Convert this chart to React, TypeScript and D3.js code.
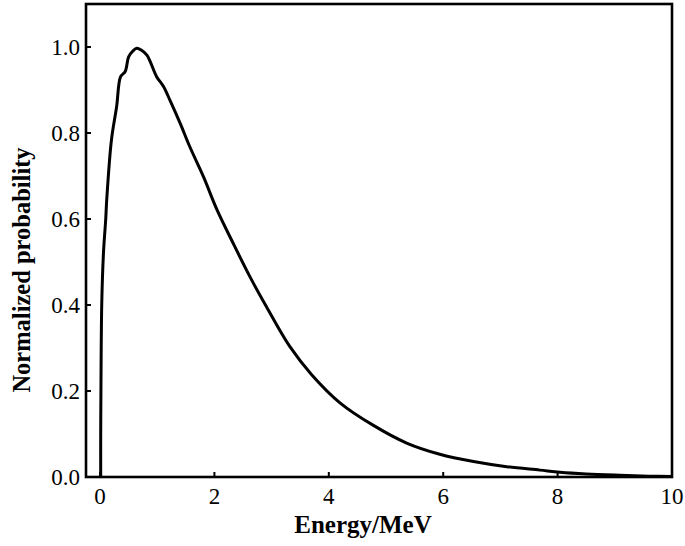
import React from "react";
import * as d3 from "d3";

const energy = [0.012, 0.012, 0.016, 0.03, 0.06, 0.1, 0.117, 0.2, 0.29, 0.36, 0.44, 0.5, 0.57, 0.64, 0.72, 0.82, 0.99, 1.11, 1.22, 1.4, 1.57, 1.81, 2.04, 2.33, 2.62, 2.91, 3.32, 3.7, 4.2, 4.78, 5.36, 5.94, 6.53, 7.11, 7.69, 8.04, 8.5, 9.09, 9.6, 10.0];
const probability = [0, 0.1, 0.2, 0.4, 0.52, 0.6, 0.644, 0.784, 0.861, 0.931, 0.943, 0.977, 0.99, 0.997, 0.993, 0.981, 0.931, 0.908, 0.877, 0.823, 0.768, 0.698, 0.623, 0.543, 0.466, 0.396, 0.303, 0.238, 0.172, 0.12, 0.079, 0.053, 0.036, 0.024, 0.016, 0.011, 0.007, 0.004, 0.002, 0.001];
const xTicks = [0, 2, 4, 6, 8, 10];
const yTicks = [0.0, 0.2, 0.4, 0.6, 0.8, 1.0];

const W = 685, H = 546;
const left = 86, right = 672, top = 4, bottom = 477;

export default function App() {
  const x = d3.scaleLinear().domain([-0.245, 10]).range([left, right]);
  const y = d3.scaleLinear().domain([0, 1.1]).range([bottom, top]);
  const data = energy.map((e, i) => [e, probability[i]] as [number, number]);
  const line = d3.line<[number, number]>().x(d => x(d[0])).y(d => y(d[1])).curve(d3.curveCatmullRom.alpha(0.5));
  const font = "'Liberation Serif', 'Times New Roman', serif";
  return (
    <svg width={W} height={H} style={{ position: "absolute", left: 0, top: 0, background: "#fff" }}>
      <rect x={0} y={0} width={W} height={H} fill="#fff" />
      <path d={line(data) || ""} fill="none" stroke="#000" strokeWidth={3} strokeLinejoin="round" />
      <rect x={left} y={top} width={right - left} height={bottom - top} fill="none" stroke="#000" strokeWidth={2.6} />
      {xTicks.map(t => (
        <g key={"x" + t}>
          <line x1={x(t)} x2={x(t)} y1={bottom} y2={bottom - 5} stroke="#000" strokeWidth={2} />
          <text x={x(t)} y={504} textAnchor="middle" fontFamily={font} fontSize={23}>{t}</text>
        </g>
      ))}
      {yTicks.map(t => (
        <g key={"y" + t}>
          <line x1={left} x2={left + 5} y1={y(t)} y2={y(t)} stroke="#000" strokeWidth={2} />
          <text x={80} y={y(t) + 8} textAnchor="end" fontFamily={font} fontSize={23}>{t.toFixed(1)}</text>
        </g>
      ))}
      <text x={363} y={533} textAnchor="middle" fontFamily={font} fontSize={25} fontWeight="bold">Energy/MeV</text>
      <text transform="translate(30,270) rotate(-90)" textAnchor="middle" fontFamily={font} fontSize={24.5} fontWeight="bold">Normalized probability</text>
    </svg>
  );
}
